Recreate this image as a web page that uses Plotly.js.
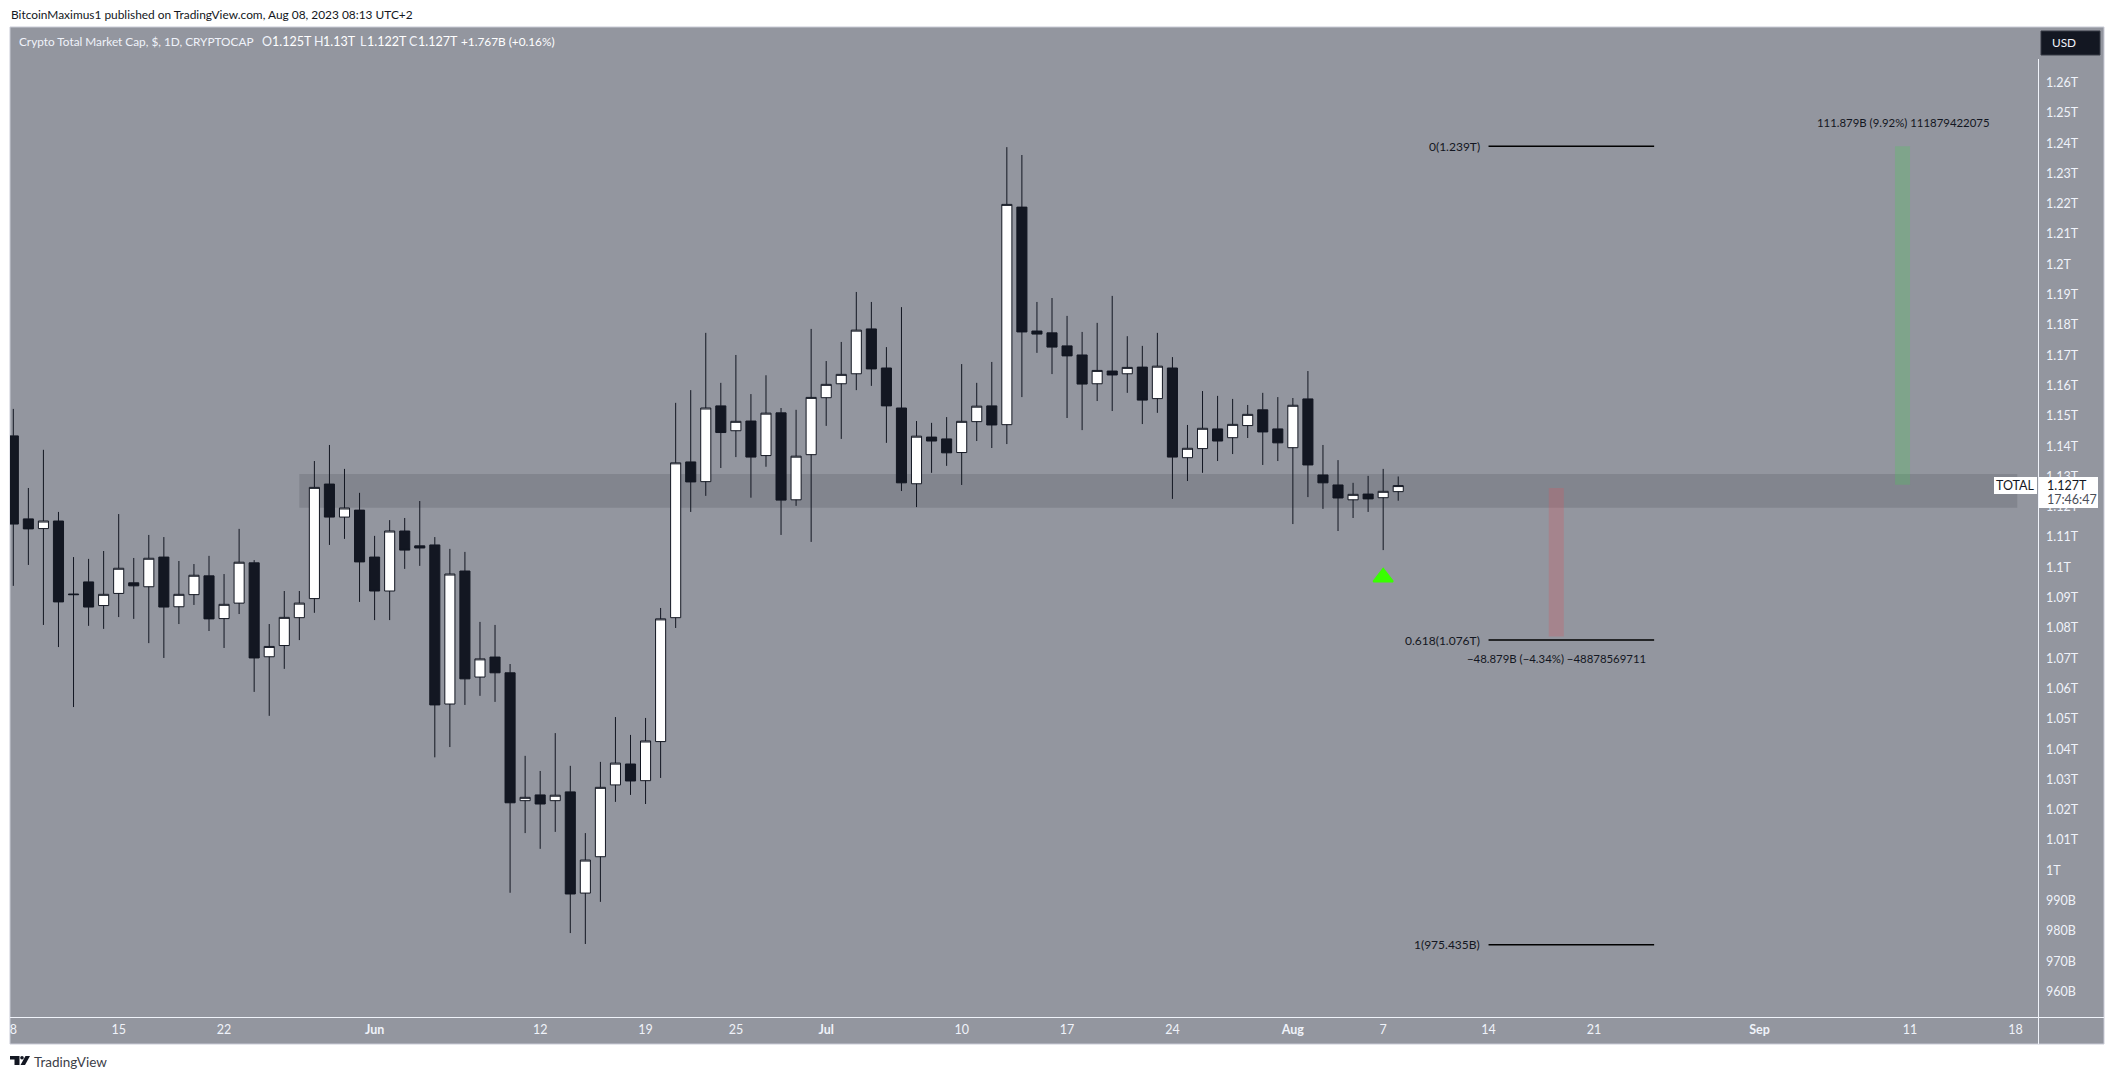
<!DOCTYPE html>
<html>
<head>
<meta charset="utf-8">
<script src="https://cdn.plot.ly/plotly-3.0.1.min.js"></script>
<style>html,body{margin:0;padding:0;background:#fff}</style>
</head>
<body>
<div id="chart"></div>
<script>
// daily candles, May 8 - Aug 8 2023, values in billions USD
let days = [
  '2023-05-08','2023-05-09','2023-05-10','2023-05-11','2023-05-12','2023-05-13','2023-05-14','2023-05-15','2023-05-16','2023-05-17',
  '2023-05-18','2023-05-19','2023-05-20','2023-05-21','2023-05-22','2023-05-23','2023-05-24','2023-05-25','2023-05-26','2023-05-27',
  '2023-05-28','2023-05-29','2023-05-30','2023-05-31','2023-06-01','2023-06-02','2023-06-03','2023-06-04','2023-06-05','2023-06-06',
  '2023-06-07','2023-06-08','2023-06-09','2023-06-10','2023-06-11','2023-06-12','2023-06-13','2023-06-14','2023-06-15','2023-06-16',
  '2023-06-17','2023-06-18','2023-06-19','2023-06-20','2023-06-21','2023-06-22','2023-06-23','2023-06-24','2023-06-25','2023-06-26',
  '2023-06-27','2023-06-28','2023-06-29','2023-06-30','2023-07-01','2023-07-02','2023-07-03','2023-07-04','2023-07-05','2023-07-06',
  '2023-07-07','2023-07-08','2023-07-09','2023-07-10','2023-07-11','2023-07-12','2023-07-13','2023-07-14','2023-07-15','2023-07-16',
  '2023-07-17','2023-07-18','2023-07-19','2023-07-20','2023-07-21','2023-07-22','2023-07-23','2023-07-24','2023-07-25','2023-07-26',
  '2023-07-27','2023-07-28','2023-07-29','2023-07-30','2023-07-31','2023-08-01','2023-08-02','2023-08-03','2023-08-04','2023-08-05',
  '2023-08-06','2023-08-07','2023-08-08'
];
let opens = [
  1143.4,1116.0,1112.8,1115.3,1091.2,1095.2,1087.4,1091.4,1094.9,1093.6,
  1103.4,1087.0,1091.0,1097.2,1083.1,1088.2,1101.5,1070.5,1074.2,1083.4,
  1089.7,1127.5,1116.6,1118.9,1103.4,1092.2,1112.0,1107.1,1107.4,1054.9,
  1098.8,1063.8,1070.4,1065.2,1023.0,1024.9,1023.0,1025.9,992.5,1004.5,
  1028.2,1035.1,1029.6,1042.5,1083.4,1134.8,1128.3,1153.3,1145.1,1148.3,
  1136.9,1151.0,1122.3,1137.2,1156.0,1160.6,1163.9,1178.7,1165.8,1152.6,
  1127.6,1143.0,1142.4,1137.9,1148.1,1153.3,1147.1,1218.9,1178.0,1177.4,
  1173.1,1170.1,1160.6,1164.8,1163.9,1166.1,1155.7,1165.8,1136.2,1139.2,
  1145.7,1142.8,1146.8,1152.0,1145.7,1139.5,1155.6,1130.5,1127.2,1122.3,
  1124.2,1123.0,1125.0
];
let highs = [
  1152.3,1126.2,1138.8,1118.3,1103.4,1102.8,1105.4,1117.6,1103.1,1110.7,
  1110.0,1102.1,1101.1,1103.8,1097.8,1112.7,1102.4,1081.3,1092.2,1092.2,
  1135.1,1140.4,1132.5,1124.6,1110.4,1115.6,1116.3,1121.9,1110.0,1106.1,
  1105.1,1082.0,1081.0,1068.1,1037.8,1032.8,1045.3,1034.5,1012.3,1035.8,
  1050.6,1044.7,1050.3,1086.6,1154.3,1158.5,1177.4,1160.9,1170.1,1157.2,
  1163.4,1152.6,1152.0,1178.7,1168.1,1174.4,1190.9,1187.6,1172.7,1185.9,
  1148.3,1147.7,1149.6,1167.1,1160.9,1167.8,1238.7,1236.1,1187.6,1188.9,
  1183.0,1177.7,1180.7,1189.6,1176.3,1173.1,1177.4,1169.4,1147.0,1158.2,
  1156.6,1155.6,1153.6,1157.6,1156.2,1155.9,1164.8,1140.4,1135.4,1127.9,
  1130.2,1132.5,1130.0
];
let lows = [
  1093.9,1100.8,1081.0,1073.7,1053.9,1080.7,1079.7,1083.6,1083.0,1075.0,
  1070.1,1081.3,1087.6,1079.0,1073.4,1084.6,1058.9,1051.0,1066.5,1076.0,
  1085.0,1107.4,1109.4,1088.6,1082.6,1082.6,1099.5,1100.5,1037.3,1040.7,
  1054.6,1057.6,1055.6,992.6,1012.3,1007.1,1012.7,979.3,975.7,989.6,
  1022.6,1024.9,1021.9,1030.5,1080.0,1118.3,1123.6,1132.8,1136.4,1123.0,
  1133.2,1110.7,1120.3,1108.4,1146.7,1142.4,1158.5,1159.9,1141.1,1125.2,
  1119.9,1131.2,1133.5,1127.2,1141.7,1139.4,1140.7,1156.2,1170.8,1163.8,
  1149.3,1145.3,1154.9,1151.6,1157.6,1147.3,1151.0,1122.6,1128.5,1131.2,
  1135.1,1137.4,1142.7,1133.8,1135.1,1114.3,1123.2,1119.3,1112.0,1116.3,
  1118.3,1105.7,1122.0
];
let closes = [
  1114.3,1112.7,1115.3,1088.6,1091.0,1086.9,1091.1,1099.7,1093.9,1103.0,
  1086.9,1091.1,1097.4,1083.0,1087.8,1101.7,1070.1,1073.9,1083.5,1088.2,
  1126.4,1116.6,1119.6,1101.8,1092.2,1112.0,1105.7,1106.4,1054.6,1097.8,
  1063.2,1069.8,1065.2,1022.3,1024.1,1021.9,1024.8,992.2,1003.4,1027.4,
  1035.4,1029.5,1042.7,1083.0,1134.5,1128.2,1152.6,1144.5,1148.2,1136.4,
  1150.9,1122.2,1136.7,1156.1,1160.4,1163.7,1178.3,1165.5,1153.3,1127.9,
  1143.3,1141.7,1137.8,1148.2,1153.2,1147.0,1219.8,1177.7,1177.0,1172.7,
  1169.8,1160.5,1165.0,1163.5,1166.0,1155.2,1166.4,1136.4,1139.3,1145.9,
  1141.7,1147.2,1150.5,1144.7,1141.1,1153.5,1133.8,1127.9,1122.9,1124.1,
  1122.6,1125.1,1127.0
];

let priceTicks = [960,970,980,990,1000,1010,1020,1030,1040,1050,1060,1070,1080,1090,1100,1110,1120,1130,1140,1150,1160,1170,1180,1190,1200,1210,1220,1230,1240,1250,1260];
let priceLabels = ['960B','970B','980B','990B','1T','1.01T','1.02T','1.03T','1.04T','1.05T','1.06T','1.07T','1.08T','1.09T','1.1T','1.11T','1.12T','1.13T','1.14T','1.15T','1.16T','1.17T','1.18T','1.19T','1.2T','1.21T','1.22T','1.23T','1.24T','1.25T','1.26T'];
let dateTicks = ['2023-05-08','2023-05-15','2023-05-22','2023-06-01','2023-06-12','2023-06-19','2023-06-25','2023-07-01','2023-07-10','2023-07-17','2023-07-24','2023-08-01','2023-08-07','2023-08-14','2023-08-21','2023-09-01','2023-09-11','2023-09-18'];
let dateLabels = ['8','15','22','<b>Jun</b>','12','19','25','<b>Jul</b>','10','17','24','<b>Aug</b>','7','14','21','<b>Sep</b>','11','18'];

// drawings on the chart
let zoneDates = ['2023-05-27','2023-09-18 03:00'];
let zonePrices = [1119.7,1130.8];
let fibDates = ['2023-08-14','2023-08-25'];
let fibPrices = [1239,1076,975.435];
let fibLabels = ['0(1.239T)','0.618(1.076T)','1(975.435B)'];
let upDates = ['2023-09-10','2023-09-11'];
let upPrices = [1127.3,1239];
let downDates = ['2023-08-18','2023-08-19'];
let downPrices = [1126.2,1077.2];
let arrowDate = ['2023-08-07'];
let arrowPrice = [1096.7];

let dark = '#131722';
let bg = '#93969f';
let lineWhite = '#f0f3fa';
let font = 'Lato, sans-serif';
let textSize = 12.5;
let smallSize = 11.9;

// pixel helpers for the page furniture around the plot
let L = 10, R = 2038, T = 27, B = 1017;
function px(x) { return (x - L) / (R - L); }
function py(y) { return (B - y) / (B - T); }

function label(text, x, y, color, size, anchor) {
    return {
        text: text, xref: 'paper', yref: 'paper', x: px(x), y: py(y),
        xanchor: anchor || 'left', yanchor: 'middle', showarrow: false,
        borderpad: 0, font: { family: font, size: size || textSize, color: color }
    };
}

function box(x0, y0, x1, y1, fill, layer, line) {
    return {
        type: 'rect', xref: 'paper', yref: 'paper', layer: layer || 'above',
        x0: px(x0), x1: px(x1), y0: py(y0), y1: py(y1),
        fillcolor: fill, line: line || { width: 0 }
    };
}

function rule(x0, y0, x1, y1) {
    return {
        type: 'line', xref: 'paper', yref: 'paper', layer: 'above',
        x0: px(x0), x1: px(x1), y0: py(y0), y1: py(y1),
        line: { color: lineWhite, width: 1 }
    };
}

function paperPath(points) {
    return points.map(function(p, i) {
        return (i ? 'L' : 'M') + px(p[0]) + ',' + py(p[1]);
    }).join(' ') + ' Z';
}

let candles = {
    type: 'candlestick',
    x: days, open: opens, high: highs, low: lows, close: closes,
    increasing: { fillcolor: '#ffffff', line: { color: dark, width: 1 } },
    decreasing: { fillcolor: dark, line: { color: dark, width: 1 } },
    hoverinfo: 'skip', showlegend: false
};

let arrow = {
    type: 'scatter', mode: 'markers', x: arrowDate, y: arrowPrice,
    marker: { symbol: 'triangle-up', size: 17, color: '#39ff00', line: { color: '#39ff00', width: 2 } },
    hoverinfo: 'skip', showlegend: false
};

let fibTraces = fibPrices.map(function(p) {
    return {
        type: 'scatter', mode: 'lines', x: fibDates, y: [p, p],
        line: { color: '#000000', width: 1.5 },
        hoverinfo: 'skip', showlegend: false
    };
});

let shapes = [
    box(10, 27, 2104, 1044, bg, 'below', { color: '#c9cbd6', width: 1 }),
    { type: 'rect', xref: 'x', yref: 'y', layer: 'below', x0: zoneDates[0], x1: zoneDates[1], y0: zonePrices[0], y1: zonePrices[1], fillcolor: '#82858e', line: { width: 0 } },
    { type: 'rect', xref: 'x', yref: 'y', layer: 'above', x0: upDates[0], x1: upDates[1], y0: upPrices[0], y1: upPrices[1], fillcolor: 'rgba(76,200,90,0.28)', line: { width: 0 } },
    { type: 'rect', xref: 'x', yref: 'y', layer: 'above', x0: downDates[0], x1: downDates[1], y0: downPrices[0], y1: downPrices[1], fillcolor: 'rgba(207,93,98,0.3)', line: { width: 0 } },
    rule(10, 1017.5, 2104, 1017.5),
    rule(2038.5, 59, 2038.5, 1044),
    box(1994, 477, 2037, 494, '#ffffff'),
    box(2039, 477, 2098, 508, '#ffffff'),
    box(2041, 31, 2100, 55, dark, 'above', { color: '#363a45', width: 1 }),
    { type: 'path', xref: 'paper', yref: 'paper', layer: 'above', fillcolor: '#131722', line: { width: 0 },
      path: paperPath([[10,1056],[19.5,1056],[19.5,1065],[14.5,1065],[14.5,1059.5],[10,1059.5]]) },
    { type: 'circle', xref: 'paper', yref: 'paper', layer: 'above', fillcolor: '#131722', line: { width: 0 },
      x0: px(20.2), x1: px(23.8), y0: py(1059.6), y1: py(1056) },
    { type: 'path', xref: 'paper', yref: 'paper', layer: 'above', fillcolor: '#131722', line: { width: 0 },
      path: paperPath([[25.5,1056],[30,1056],[25,1065],[20.5,1065]]) }
];

let annotations = [
    label('BitcoinMaximus1 published on TradingView.com, Aug 08, 2023 08:13 UTC+2', 10, 15, '#131722', smallSize),
    label('Crypto Total Market Cap, $, 1D, CRYPTOCAP', 18, 42, lineWhite, 11.8),
    label('O', 261, 42, lineWhite), label('1.125T', 270.5, 42, '#ffffff'),
    label('H', 313, 42, lineWhite), label('1.13T', 322, 42, '#ffffff'),
    label('L', 358.5, 42, lineWhite), label('1.122T', 366, 42, '#ffffff'),
    label('C', 408, 42, lineWhite), label('1.127T', 416.5, 42, '#ffffff'),
    label('+1.767B (+0.16%)', 460, 42, '#ffffff', 11.8),
    label('USD', 2051, 43, lineWhite, 11.8),
    label('TOTAL', 2015.5, 485.5, '#131722', textSize, 'center'),
    label('1.127T', 2046, 485.5, '#131722'),
    label('17:46:47', 2046, 499.5, '#4a4e58'),
    label('111.879B (9.92%) 111879422075', 1903, 123, '#131722', 11.4, 'center'),
    label('\u221248.879B (\u22124.34%) \u221248878569711', 1556, 658, '#131722', 11.4, 'center'),
    label('TradingView', 33, 1062, '#3c4048', 13.5)
];
fibPrices.forEach(function(p, i) {
    annotations.push({
        text: fibLabels[i], xref: 'paper', yref: 'y', x: px(1481), y: p,
        xanchor: 'right', yanchor: 'middle', showarrow: false, borderpad: 0,
        font: { family: font, size: 12, color: '#131722' }
    });
});

let layout = {
    width: 2114, height: 1079, autosize: false,
    margin: { l: L, r: 2114 - R, t: T, b: 1079 - B, pad: 0 },
    paper_bgcolor: '#ffffff', plot_bgcolor: 'rgba(0,0,0,0)',
    showlegend: false, boxgap: 0.33, boxgroupgap: 0,
    xaxis: {
        type: 'date', range: ['2023-05-07 18:43', '2023-09-19 12:00'],
        tickmode: 'array', tickvals: dateTicks, ticktext: dateLabels,
        rangeslider: { visible: false }, showgrid: false, zeroline: false, showline: false,
        ticks: '', ticklabelstandoff: 3,
        tickfont: { family: font, size: textSize, color: lineWhite }
    },
    yaxis: {
        side: 'right', range: [951.6, 1278.35],
        tickmode: 'array', tickvals: priceTicks, ticktext: priceLabels,
        showgrid: false, zeroline: false, showline: false,
        ticks: '', ticklabelstandoff: 7,
        tickfont: { family: font, size: textSize, color: lineWhite }
    },
    shapes: shapes,
    annotations: annotations
};

Plotly.newPlot('chart', [candles].concat(fibTraces, [arrow]), layout, { displayModeBar: false, staticPlot: true });
</script>
</body>
</html>
